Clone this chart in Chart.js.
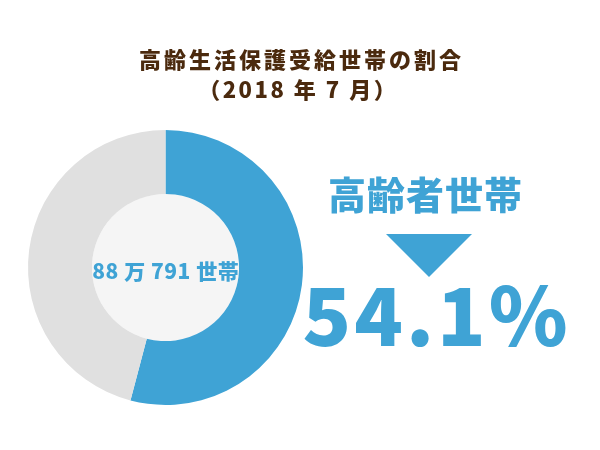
<!DOCTYPE html>
<html>
<head>
<meta charset="utf-8">
<script src="https://cdn.jsdelivr.net/npm/chart.js@4"></script>
<style>
  html, body { margin: 0; padding: 0; background: #fff; }
  #wrap { width: 600px; height: 450px; position: relative; }
</style>
</head>
<body>
<div id="wrap"><canvas id="myChart" width="600" height="450"></canvas></div>
<script>
// datos del grafico
var categorias = ['高齢者世帯', 'その他の世帯'];
var porcentajes = [54.1, 45.9];
var colores = ['#3fa3d5', '#e0e0e0'];
var titulo = ['高齢生活保護受給世帯の割合', '（2018 年 7 月）'];
var textoCentro = '88 万 791 世帯';
var etiqueta = '高齢者世帯';
var valorTexto = porcentajes[0].toFixed(1) + '%';

var FONT = '"Noto Sans CJK JP", "Noto Sans", sans-serif';
var AZUL = '#3fa3d5';

function texto(c, t, x, y, esp) {
    c.letterSpacing = esp + 'px';
    // compensar el espacio final
    c.fillText(t, x + esp / 2, y);
    c.letterSpacing = '0px';
}

const textos = {
    id: 'textos',
    beforeDatasetsDraw(chart) {
        var arc = chart.getDatasetMeta(0).data[0];
        var c = chart.ctx;
        c.save();
        c.beginPath();
        c.arc(arc.x, arc.y, arc.innerRadius, 0, Math.PI * 2);
        c.fillStyle = '#f5f5f5';
        c.fill();
        c.restore();
    },
    afterDraw(chart) {
        var arc = chart.getDatasetMeta(0).data[0];
        var c = chart.ctx;
        c.save();
        c.textAlign = 'center';
        c.textBaseline = 'middle';
        // titulo
        c.fillStyle = '#4b2a0e';
        c.font = '900 22px ' + FONT;
        texto(c, titulo[0], 300, 60, 3);
        texto(c, titulo[1], 297, 90, 2.5);
        // centro
        c.fillStyle = AZUL;
        c.font = '900 21px ' + FONT;
        texto(c, textoCentro, arc.x, arc.y + 4, 0.5);
        // derecha
        c.font = '900 38px ' + FONT;
        texto(c, etiqueta, 425, 195, 1);
        c.beginPath();
        c.moveTo(386, 234);
        c.lineTo(472, 234);
        c.lineTo(429, 277);
        c.closePath();
        c.fill();
        c.font = '900 80px ' + FONT;
        c.textBaseline = 'alphabetic';
        texto(c, valorTexto, 435, 346, 3);
        c.restore();
    }
};

var ctx = document.getElementById('myChart').getContext('2d');
var myChart = new Chart(ctx, {
    type: 'doughnut',
    data: {
        labels: categorias,
        datasets: [{
            data: porcentajes,
            backgroundColor: colores,
            borderWidth: 0
        }]
    },
    options: {
        responsive: false,
        animation: false,
        cutout: '53.5%',
        layout: {
            padding: {left: 28, right: 297, top: 130, bottom: 45}
        },
        plugins: {
            legend: {display: false},
            tooltip: {enabled: false}
        }
    },
    plugins: [textos]
});
</script>
</body>
</html>
